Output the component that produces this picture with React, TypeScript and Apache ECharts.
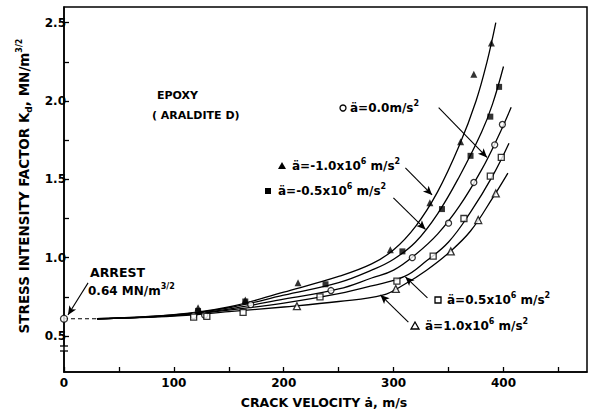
import { useEffect, useRef } from "react";
import * as echarts from "echarts";

const FONT = "'DejaVu Sans', sans-serif";

// axis ticks / labels
const velocityTicks = [0, 50, 100, 150, 200, 250, 300, 350, 400, 450];
const velocityLabels = [0, 100, 200, 300, 400];
const kTicks = [0.5, 0.75, 1.0, 1.25, 1.5, 1.75, 2.0, 2.25, 2.5];
const kLabels = [0.5, 1.0, 1.5, 2.0, 2.5];

// arrest point and extrapolation [velocity m/s, Kd]
const arrestPoint = [[0, 0.61]];
const extrapolated = [[0, 0.61], [30, 0.61]];

// fitted curves
const curveMinus10 = [[30, 0.61], [100, 0.636], [150, 0.685], [200, 0.78], [250, 0.88], [280, 0.96], [300, 1.05], [320, 1.2], [340, 1.42], [360, 1.72], [375, 2.0], [385, 2.25], [393, 2.5]];
const curveMinus05 = [[30, 0.61], [100, 0.634], [150, 0.68], [200, 0.76], [250, 0.84], [280, 0.92], [300, 0.99], [320, 1.1], [340, 1.28], [360, 1.52], [380, 1.8], [390, 1.98], [400, 2.22]];
const curveZero = [[30, 0.61], [100, 0.632], [150, 0.672], [200, 0.735], [250, 0.8], [280, 0.87], [300, 0.92], [320, 1.02], [340, 1.15], [360, 1.33], [380, 1.56], [395, 1.77], [407, 1.96]];
const curvePlus05 = [[30, 0.61], [100, 0.63], [150, 0.665], [200, 0.71], [250, 0.77], [280, 0.82], [310, 0.88], [330, 0.98], [350, 1.1], [370, 1.29], [390, 1.52], [405, 1.73]];
const curvePlus10 = [[30, 0.61], [100, 0.627], [150, 0.655], [200, 0.685], [250, 0.72], [290, 0.76], [310, 0.83], [330, 0.92], [350, 1.03], [370, 1.17], [390, 1.38], [404, 1.54]];

// measured points
const pointsMinus10 = [[122, 0.68], [165, 0.73], [213, 0.84], [297, 1.05], [333, 1.35], [361, 1.74], [373, 2.17], [389, 2.37]];
const pointsMinus05 = [[122, 0.66], [165, 0.72], [238, 0.83], [308, 1.04], [344, 1.31], [370, 1.65], [388, 1.9], [396, 2.09]];
const pointsZero = [[118, 0.63], [128, 0.633], [170, 0.7], [243, 0.79], [317, 1.0], [350, 1.22], [373, 1.48], [392, 1.72], [399, 1.85]];
const pointsPlus05 = [[118, 0.62], [130, 0.625], [163, 0.65], [233, 0.75], [303, 0.85], [336, 1.01], [364, 1.25], [388, 1.52], [398, 1.64]];
const pointsPlus10 = [[212, 0.69], [302, 0.8], [352, 1.04], [377, 1.24], [393, 1.41]];

// annotation arrows: [from, to] in data coordinates
const arrows = [
  [[341, 1.957], [385, 1.64]],
  [[310.7, 1.573], [335, 1.4]],
  [[299.8, 1.382], [329, 1.18]],
  [[330.8, 0.743], [310.7, 0.877]],
  [[313.4, 0.589], [288, 0.762]],
  [[21.9, 0.839], [3.6, 0.634]],
];

const RICH = {
  sup: { fontSize: 8, fontWeight: "bold", fontFamily: FONT, fill: "#000", verticalAlign: "top", lineHeight: 8 },
  sub: { fontSize: 9, fontWeight: "bold", fontFamily: FONT, fill: "#000", verticalAlign: "bottom", lineHeight: 9 },
};

function txt(x: number, y: number, text: string, size = 12, extra: any = {}) {
  return {
    type: "text",
    x,
    y,
    silent: true,
    ...extra,
    style: {
      text,
      fill: "#000",
      fontSize: size,
      fontWeight: "bold",
      fontFamily: FONT,
      lineHeight: 18,
      align: extra.align || "left",
      verticalAlign: "middle",
      rich: RICH,
    },
  };
}

export default function App() {
  const ref = useRef<HTMLDivElement>(null);
  useEffect(() => {
    if (!ref.current) return;
    const chart = echarts.init(ref.current, null, { renderer: "svg" });
    const lineSeries = (data: number[][]) => ({
      type: "line",
      data,
      smooth: 0.4,
      showSymbol: false,
      symbol: "none",
      silent: true,
      lineStyle: { color: "#000", width: 1.3 },
      z: 2,
    });
    const scatter = (data: number[][], symbol: string, filled: boolean, size: number) => ({
      type: "scatter",
      data,
      symbol,
      symbolSize: size,
      silent: true,
      itemStyle: filled
        ? { color: "#000" }
        : { color: "#fff", borderColor: "#000", borderWidth: 1.3 },
      z: 3,
    });
    chart.setOption({
      animation: false,
      backgroundColor: "#fff",
      grid: {
        left: 64,
        right: 11,
        top: 7,
        bottom: 43,
        show: true,
        borderColor: "#000",
        borderWidth: 1.5,
        containLabel: false,
      },
      xAxis: {
        type: "value",
        min: 0,
        max: 476,
        axisLine: { lineStyle: { color: "#000", width: 1.5 } },
        axisTick: { inside: true, length: 5, customValues: velocityTicks, lineStyle: { color: "#000", width: 1.3 } },
        axisLabel: {
          customValues: velocityLabels,
          color: "#000",
          fontSize: 12,
          fontWeight: "bold",
          fontFamily: FONT,
          margin: 5,
        },
        splitLine: { show: false },
      },
      yAxis: {
        type: "value",
        min: 0.27,
        max: 2.6,
        axisLine: { lineStyle: { color: "#000", width: 1.5 } },
        axisTick: { inside: true, length: 5, customValues: kTicks, lineStyle: { color: "#000", width: 1.3 } },
        axisLabel: {
          customValues: kLabels,
          formatter: (v: number) => v.toFixed(1),
          color: "#000",
          fontSize: 12,
          fontWeight: "bold",
          fontFamily: FONT,
          margin: -2,
        },
        splitLine: { show: false },
      },
      series: [
        {
          type: "line",
          data: extrapolated,
          showSymbol: false,
          symbol: "none",
          silent: true,
          lineStyle: { color: "#000", width: 1.2, type: [4, 3] },
          markLine: {
            silent: true,
            symbol: ["none", "arrow"],
            symbolSize: [6, 9],
            lineStyle: { color: "#000", width: 1.1, type: "solid" },
            label: { show: false },
            data: arrows.map((a) => [{ coord: a[0] }, { coord: a[1] }]),
          },
        },
        lineSeries(curveMinus10),
        lineSeries(curveMinus05),
        lineSeries(curveZero),
        lineSeries(curvePlus05),
        lineSeries(curvePlus10),
        scatter(pointsMinus10, "triangle", true, 7),
        scatter(pointsMinus05, "rect", true, 6),
        scatter(pointsZero, "circle", false, 6),
        scatter(pointsPlus05, "rect", false, 6),
        scatter(pointsPlus10, "triangle", false, 7),
        scatter(arrestPoint, "circle", false, 7),
      ],
      graphic: [
        // axis break mark
        { type: "rect", silent: true, shape: { x: 61, y: 346, width: 6, height: 5 }, style: { fill: "#fff" } },
        { type: "line", silent: true, shape: { x1: 60, y1: 346, x2: 68, y2: 346 }, style: { stroke: "#000", lineWidth: 1.3 } },
        { type: "line", silent: true, shape: { x1: 60, y1: 351, x2: 68, y2: 351 }, style: { stroke: "#000", lineWidth: 1.3 } },
        txt(24, 186, "STRESS INTENSITY FACTOR K{sub|d}, MN/m{sup|3/2}", 13.5, { rotation: Math.PI / 2, align: "center" }),
        txt(324, 402, "CRACK VELOCITY ȧ, m/s", 12.5, { align: "center" }),
        txt(157, 95, "EPOXY", 11),
        txt(152, 115, "( ARALDITE D)", 11),
        txt(90, 272, "ARREST", 12.5),
        txt(88, 291, "0.64 MN/m{sup|3/2}", 12),
        { type: "circle", silent: true, shape: { cx: 343, cy: 108, r: 3 }, style: { fill: "#fff", stroke: "#000", lineWidth: 1.3 } },
        txt(350, 108, "ä=0.0m/s{sup|2}", 12),
        { type: "polygon", silent: true, shape: { points: [[282, 162], [278, 169], [286, 169]] }, style: { fill: "#000" } },
        txt(292, 166, "ä=-1.0x10{sup|6} m/s{sup|2}", 12),
        { type: "rect", silent: true, shape: { x: 265, y: 188, width: 6, height: 6 }, style: { fill: "#000" } },
        txt(278, 191, "ä=-0.5x10{sup|6} m/s{sup|2}", 12),
        { type: "rect", silent: true, shape: { x: 435, y: 297, width: 6, height: 6 }, style: { fill: "#fff", stroke: "#000", lineWidth: 1.3 } },
        txt(447, 300, "ä=0.5x10{sup|6} m/s{sup|2}", 12),
        { type: "polygon", silent: true, shape: { points: [[415, 322], [411, 329], [419, 329]] }, style: { fill: "#fff", stroke: "#000", lineWidth: 1.3 } },
        txt(425, 326, "ä=1.0x10{sup|6} m/s{sup|2}", 12),
      ],
    });
    return () => chart.dispose();
  }, []);
  return (
    <div
      ref={ref}
      style={{ position: "absolute", left: 0, top: 0, width: 598, height: 415, background: "#fff" }}
    />
  );
}
